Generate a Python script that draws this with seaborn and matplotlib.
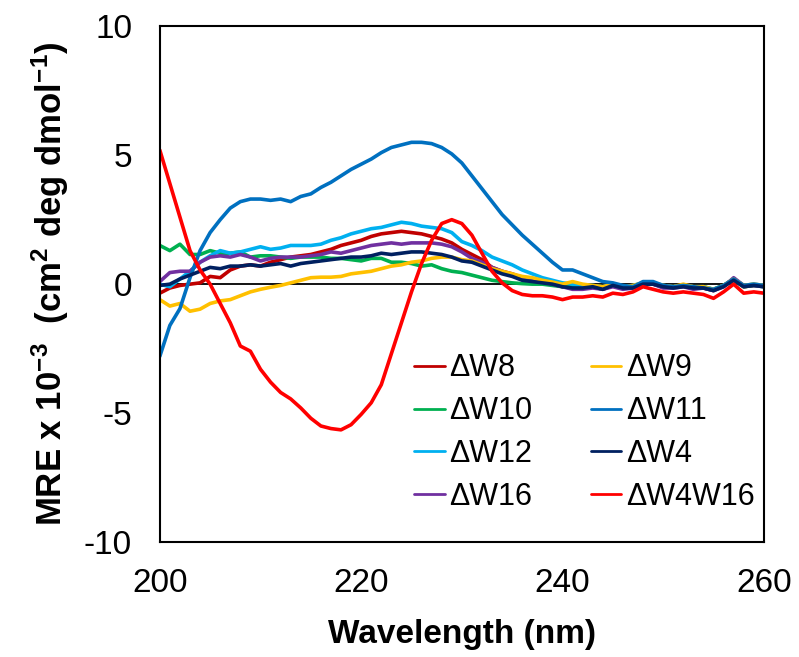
import numpy as np
import pandas as pd
import matplotlib
matplotlib.use("Agg")
import matplotlib.pyplot as plt
import seaborn as sns

wavelength = list(range(200, 261))

dW8 = [-0.35, -0.15, -0.05, 0.0, 0.05, 0.3, 0.25, 0.55, 0.7, 0.75, 0.7, 0.85, 0.95, 1.05, 1.1, 1.15, 1.25, 1.35, 1.5, 1.6,
       1.7, 1.85, 1.95, 2.0, 2.05, 2.0, 1.95, 1.85, 1.75, 1.6, 1.35, 1.15, 0.95, 0.65, 0.5, 0.4, 0.25, 0.15, 0.05, 0.0,
       -0.1, -0.1, -0.15, -0.1, -0.2, -0.05, -0.15, -0.1, 0.05, 0.0, -0.1, -0.1, -0.05, -0.15, -0.15, -0.25, -0.05, 0.2, -0.1, -0.05, -0.05]
dW9 = [-0.6, -0.85, -0.75, -1.05, -0.97, -0.75, -0.65, -0.6, -0.45, -0.3, -0.2, -0.12, -0.05, 0.05, 0.15, 0.25, 0.27, 0.27, 0.3, 0.4,
       0.45, 0.5, 0.6, 0.7, 0.75, 0.85, 0.9, 1.0, 1.05, 1.05, 0.95, 0.9, 0.75, 0.6, 0.5, 0.4, 0.3, 0.25, 0.15, 0.08,
       0.0, 0.1, 0.0, -0.05, -0.1, 0.0, -0.1, -0.05, 0.05, 0.05, -0.05, -0.1, 0.0, -0.1, -0.1, -0.2, -0.05, 0.2, -0.05, 0.0, -0.05]
dW10 = [1.5, 1.3, 1.55, 1.15, 1.15, 1.3, 1.2, 1.2, 1.25, 1.05, 1.1, 1.1, 1.05, 1.0, 1.05, 1.05, 1.05, 1.0, 1.0, 0.95,
        0.9, 1.0, 1.0, 0.85, 0.85, 0.8, 0.7, 0.75, 0.6, 0.5, 0.45, 0.35, 0.25, 0.15, 0.1, 0.05, 0.02, 0.0, 0.0, -0.05,
        -0.1, -0.1, -0.1, -0.1, -0.15, 0.0, -0.1, -0.1, 0.05, 0.05, -0.1, -0.1, -0.05, -0.15, -0.1, -0.2, -0.05, 0.15, -0.1, -0.05, -0.1]
dW11 = [-2.8, -1.6, -0.95, 0.25, 1.3, 2.0, 2.5, 2.95, 3.2, 3.3, 3.3, 3.25, 3.3, 3.2, 3.4, 3.5, 3.75, 3.95, 4.2, 4.45,
        4.65, 4.85, 5.1, 5.3, 5.4, 5.5, 5.5, 5.45, 5.3, 5.05, 4.7, 4.2, 3.7, 3.2, 2.7, 2.3, 1.9, 1.55, 1.2, 0.85,
        0.55, 0.55, 0.4, 0.25, 0.1, 0.05, -0.05, -0.1, 0.1, 0.1, -0.05, -0.1, -0.05, -0.1, -0.15, -0.2, -0.05, 0.2, -0.05, 0.0, -0.05]
dW12 = [0.0, -0.1, 0.2, 0.5, 0.85, 1.1, 1.3, 1.2, 1.25, 1.35, 1.45, 1.35, 1.4, 1.5, 1.5, 1.5, 1.55, 1.7, 1.8, 1.95,
        2.05, 2.15, 2.2, 2.3, 2.4, 2.35, 2.25, 2.2, 2.15, 2.0, 1.65, 1.5, 1.3, 1.05, 0.9, 0.75, 0.55, 0.4, 0.25, 0.15,
        0.05, 0.0, -0.05, -0.05, -0.1, 0.0, -0.1, -0.05, 0.05, 0.05, -0.05, -0.1, -0.05, -0.1, -0.1, -0.2, -0.05, 0.2, -0.05, 0.0, -0.05]
dW4 = [-0.05, 0.0, 0.2, 0.35, 0.5, 0.65, 0.6, 0.7, 0.7, 0.75, 0.7, 0.75, 0.8, 0.7, 0.8, 0.85, 0.9, 0.95, 1.0, 1.05,
       1.05, 1.1, 1.2, 1.15, 1.2, 1.25, 1.25, 1.2, 1.15, 1.05, 0.9, 0.85, 0.7, 0.55, 0.4, 0.3, 0.15, 0.1, 0.05, 0.0,
       -0.1, -0.15, -0.15, -0.1, -0.2, -0.05, -0.15, -0.15, 0.0, 0.0, -0.1, -0.15, -0.1, -0.15, -0.15, -0.25, -0.1, 0.15, -0.1, -0.05, -0.1]
dW16 = [0.1, 0.45, 0.5, 0.5, 0.85, 1.05, 1.1, 1.05, 1.15, 1.05, 0.9, 1.0, 1.05, 1.05, 1.05, 1.1, 1.15, 1.25, 1.2, 1.3,
        1.4, 1.5, 1.55, 1.6, 1.55, 1.6, 1.6, 1.6, 1.55, 1.45, 1.25, 1.0, 0.85, 0.65, 0.5, 0.35, 0.25, 0.15, 0.08, 0.0,
        -0.1, -0.2, -0.2, -0.15, -0.2, -0.1, -0.2, -0.15, 0.0, 0.0, -0.15, -0.15, -0.1, -0.2, -0.15, -0.25, -0.1, 0.25, -0.05, -0.05, -0.1]
dW4W16 = [5.2, 3.9, 2.6, 1.3, 0.55, 0.0, -0.75, -1.5, -2.4, -2.6, -3.3, -3.8, -4.2, -4.45, -4.8, -5.2, -5.5, -5.6, -5.65, -5.45,
          -5.05, -4.6, -3.9, -2.7, -1.5, -0.3, 0.8, 1.7, 2.35, 2.5, 2.35, 1.9, 1.2, 0.5, 0.05, -0.25, -0.4, -0.45, -0.45, -0.5,
          -0.6, -0.5, -0.5, -0.45, -0.5, -0.35, -0.4, -0.3, -0.1, -0.2, -0.3, -0.35, -0.3, -0.35, -0.4, -0.55, -0.3, 0.0, -0.35, -0.3, -0.35]

labels = ["ΔW8", "ΔW10", "ΔW12", "ΔW16", "ΔW9", "ΔW11", "ΔW4", "ΔW4W16"]
series = [dW8, dW10, dW12, dW16, dW9, dW11, dW4, dW4W16]
colors = ["#C00000", "#00B050", "#00B0F0", "#7030A0", "#FFC000", "#0070C0", "#002060", "#FF0000"]

df = pd.concat([pd.DataFrame({"Wavelength": wavelength, "MRE": s, "Sample": lab})
                for lab, s in zip(labels, series)], ignore_index=True)

sns.set_theme(style="white")
plt.rcParams["font.family"] = ["Liberation Sans", "DejaVu Sans"]
plt.rcParams["mathtext.fontset"] = "custom"
plt.rcParams["mathtext.rm"] = "Liberation Sans:bold"
plt.rcParams["mathtext.default"] = "rm"
plt.rcParams["axes.unicode_minus"] = False
for k in ["text.color", "axes.labelcolor", "xtick.color", "ytick.color", "axes.edgecolor"]:
    plt.rcParams[k] = "black"

fig = plt.figure(figsize=(7.99, 6.57), dpi=100)
ax = fig.add_axes([0.200, 0.175, 0.756, 0.785])

ax.axhline(0, color="black", lw=1.3, zorder=1.5)
sns.lineplot(data=df, x="Wavelength", y="MRE", hue="Sample", hue_order=labels,
             palette=dict(zip(labels, colors)), lw=2.6, ax=ax, zorder=2)

ax.set_xlim(200, 260)
ax.set_ylim(-10, 10)
ax.set_xticks([200, 220, 240, 260])
ax.set_yticks([-10, -5, 0, 5, 10])
ax.tick_params(axis="both", direction="in", length=6, width=1.3, labelsize=24, colors="black")
ax.tick_params(axis="y", pad=20)
ax.tick_params(axis="x", pad=19)
for sp in ax.spines.values():
    sp.set_visible(True)
    sp.set_color("black")
    sp.set_linewidth(1.5)

ax.set_xlabel("Wavelength (nm)", fontsize=24, fontweight="bold", labelpad=14)
ax.set_ylabel("MRE x 10$^{-3}$  (cm$^{2}$ deg dmol$^{-1}$)", fontsize=25, fontweight="bold", labelpad=9)

handles, labs = ax.get_legend_handles_labels()
for h in handles:
    h.set_linewidth(2.0)
ax.legend(handles, labs, ncol=2, frameon=False, fontsize=22, loc="lower right",
          bbox_to_anchor=(1.03, 0.005), handlelength=1.0, handletextpad=0.15,
          columnspacing=1.9, labelspacing=0.42)

fig.savefig("out.png", dpi=100)
